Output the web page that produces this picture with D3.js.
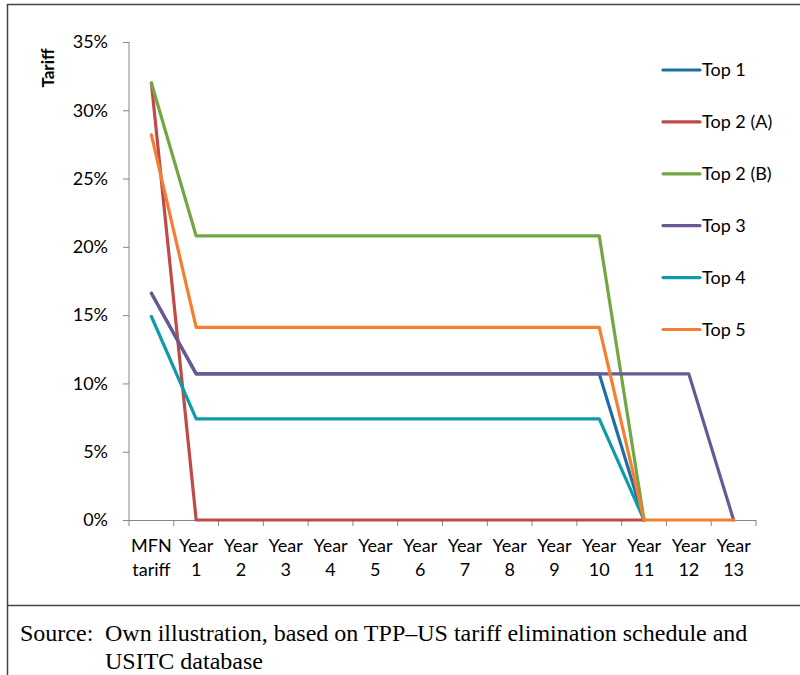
<!DOCTYPE html>
<html>
<head>
<meta charset="utf-8">
<script src="https://cdn.jsdelivr.net/npm/d3@7"></script>
<style>
  body { margin: 0; background: #fff; }
  svg { display: block; }
  .axis text { font-family: Lato, "Noto Sans", sans-serif; font-size: 18px; fill: #000; }
  .axis path, .axis line { stroke: #868686; }
</style>
</head>
<body>
<div id="chart"></div>
<script>
// categories along the x axis (two lines each)
var categories = ["MFN", "Y1", "Y2", "Y3", "Y4", "Y5", "Y6", "Y7", "Y8", "Y9", "Y10", "Y11", "Y12", "Y13"];
var catLine1 = ["MFN", "Year", "Year", "Year", "Year", "Year", "Year", "Year", "Year", "Year", "Year", "Year", "Year", "Year"];
var catLine2 = ["tariff", "1", "2", "3", "4", "5", "6", "7", "8", "9", "10", "11", "12", "13"];

var seriesNames = ["Top 1", "Top 2 (A)", "Top 2 (B)", "Top 3", "Top 4", "Top 5"];
var colors = ["#1d6ea6", "#be4b48", "#72a544", "#6b5892", "#0f9aaa", "#f57f30"];

// tariff values in %, null = no point
var top1  = [16.6, 10.7, 10.7, 10.7, 10.7, 10.7, 10.7, 10.7, 10.7, 10.7, 10.7, 0, null, null];
var top2a = [32, 0, 0, 0, 0, 0, 0, 0, 0, 0, 0, 0, null, null];
var top2b = [32, 20.8, 20.8, 20.8, 20.8, 20.8, 20.8, 20.8, 20.8, 20.8, 20.8, 0, null, null];
var top3  = [16.6, 10.7, 10.7, 10.7, 10.7, 10.7, 10.7, 10.7, 10.7, 10.7, 10.7, 10.7, 10.7, 0];
var top4  = [14.9, 7.4, 7.4, 7.4, 7.4, 7.4, 7.4, 7.4, 7.4, 7.4, 7.4, 0, null, null];
var top5  = [28.2, 14.1, 14.1, 14.1, 14.1, 14.1, 14.1, 14.1, 14.1, 14.1, 14.1, 0, 0, 0];

var yTicks = [0, 5, 10, 15, 20, 25, 30, 35];

var allSeries = [top1, top2a, top2b, top3, top4, top5];

var width = 800, height = 675;
var svg = d3.select("#chart").append("svg")
    .attr("width", width)
    .attr("height", height);

svg.append("rect").attr("width", width).attr("height", height).attr("fill", "#fff");

// frame lines
svg.append("line").attr("x1", 7.5).attr("x2", 7.5).attr("y1", 4).attr("y2", height)
    .attr("stroke", "#444").attr("stroke-width", 1.5);
svg.append("line").attr("x1", 7).attr("x2", width).attr("y1", 4.5).attr("y2", 4.5)
    .attr("stroke", "#444").attr("stroke-width", 1.5);
svg.append("line").attr("x1", 7).attr("x2", width).attr("y1", 605.5).attr("y2", 605.5)
    .attr("stroke", "#444").attr("stroke-width", 1.5);

var plotLeft = 129, plotRight = 756, plotTop = 42, plotBottom = 520;

var xBand = d3.scaleBand()
    .domain(categories)
    .range([plotLeft, plotRight])
    .padding(0);

var xPos = function(c){ return xBand(c) + xBand.bandwidth() / 2; };

var y = d3.scaleLinear()
    .domain([0, 35])
    .range([plotBottom, plotTop]);

// y axis
var yAxis = d3.axisLeft(y)
    .tickValues(yTicks)
    .tickSize(6)
    .tickPadding(15)
    .tickFormat(function(d){ return d + "%"; });

svg.append("g")
    .attr("class", "axis")
    .attr("transform", "translate(" + plotLeft + ",0)")
    .call(yAxis)
    .call(function(g){ g.select(".domain").attr("d", "M0," + plotTop + "V" + plotBottom); });

// x axis: line + ticks at category boundaries
var xg = svg.append("g").attr("class", "axis");
xg.append("line")
    .attr("x1", plotLeft).attr("x2", plotRight)
    .attr("y1", plotBottom + 0.5).attr("y2", plotBottom + 0.5)
    .attr("stroke", "#868686");
var bounds = categories.map(function(c){ return xBand(c); }).concat([plotRight]);
xg.selectAll("line.tk")
    .data(bounds)
    .enter().append("line")
    .attr("class", "tk")
    .attr("x1", function(d){ return d; }).attr("x2", function(d){ return d; })
    .attr("y1", plotBottom).attr("y2", plotBottom + 6)
    .attr("stroke", "#868686");

var lbl = xg.selectAll("text.cat")
    .data(categories)
    .enter().append("text")
    .attr("class", "cat")
    .attr("text-anchor", "middle")
    .attr("x", function(d){ return xPos(d); });
lbl.append("tspan")
    .attr("x", function(d){ return xPos(d); })
    .attr("y", 552)
    .text(function(d, i){ return catLine1[i]; });
lbl.append("tspan")
    .attr("x", function(d){ return xPos(d); })
    .attr("y", 576)
    .text(function(d, i){ return catLine2[i]; });

// y title
svg.append("text")
    .attr("transform", "translate(54,68) rotate(-90)")
    .attr("text-anchor", "middle")
    .style("font-family", "Lato, 'Noto Sans', sans-serif")
    .style("font-size", "17px")
    .style("font-weight", "bold")
    .text("Tariff");

// lines
var line = d3.line()
    .defined(function(d){ return d != null; })
    .x(function(d, i){ return xPos(categories[i]); })
    .y(function(d){ return y(d); });

svg.selectAll("path.series")
    .data(allSeries)
    .enter().append("path")
    .attr("class", "series")
    .attr("d", line)
    .attr("fill", "none")
    .attr("stroke", function(d, i){ return colors[i]; })
    .attr("stroke-width", 3.2)
    .attr("stroke-linejoin", "round")
    .attr("stroke-linecap", "round");

// legend
var legend = svg.selectAll("g.leg")
    .data(seriesNames)
    .enter().append("g")
    .attr("class", "leg")
    .attr("transform", function(d, i){ return "translate(663," + (70 + i * 51.9) + ")"; });
legend.append("line")
    .attr("x1", 0).attr("x2", 37)
    .attr("stroke", function(d, i){ return colors[i]; })
    .attr("stroke-width", 3.2)
    .attr("stroke-linecap", "round");
legend.append("text")
    .attr("x", 39)
    .attr("dy", "0.36em")
    .style("font-family", "Lato, 'Noto Sans', sans-serif")
    .style("font-size", "18px")
    .text(function(d){ return d; });

// source note
var src = svg.append("g")
    .style("font-family", "'Liberation Serif', 'DejaVu Serif', serif")
    .style("font-size", "24px");
src.append("text").attr("x", 20).attr("y", 641).text("Source:");
src.append("text").attr("x", 105).attr("y", 641)
    .text("Own illustration, based on TPP\u2013US tariff elimination schedule and");
src.append("text").attr("x", 105).attr("y", 669).text("USITC database");
</script>
</body>
</html>
